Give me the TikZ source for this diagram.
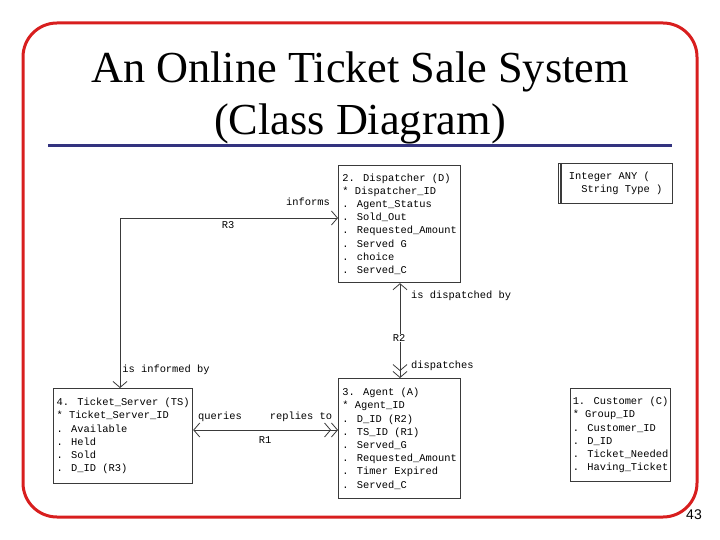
\documentclass[tikz,border=0pt]{standalone}
\usepackage{fontspec}
\setmainfont{Liberation Serif}
\newfontfamily\classfont{Liberation Mono}
\newfontfamily\pagefont{Liberation Sans}
\usepackage{xcolor}
\usetikzlibrary{arrows.meta, positioning, calc}
\definecolor{slidered}{HTML}{D81E1E}
\definecolor{slideblue}{HTML}{33337F}
\definecolor{umlgray}{HTML}{3A3A3A}
\newcommand{\monosize}{\classfont\fontsize{10.4}{13.2}\selectfont}

\begin{document}
\begin{tikzpicture}[x=1pt,y=-1pt,
    umlclass/.style={draw=umlgray,line width=1.2pt,anchor=north west,align=flush left,
      inner sep=0pt,font=\monosize},
    assoc/.style={draw=umlgray,line width=0.8pt},
    lbl/.style={font=\monosize,inner sep=1pt},
    one/.tip={Straight Barb[length=6pt,width=14pt,line width=0.8pt]},
    many/.tip={Straight Barb[length=6pt,width=14pt,line width=0.8pt]Straight Barb[length=6pt,width=14pt,line width=0.8pt]}]
  \useasboundingbox (0,0) rectangle (720,540);
  % slide frame and title
  \draw[slidered,line width=3pt,rounded corners=34pt] (23,23) rectangle (697,517);
  \node (title) at (360,98) [align=center,font=\fontsize{44.3}{52}\selectfont] {An Online Ticket Sale System\\(Class Diagram)};
  \draw[slideblue,line width=3pt] (48,146) -- (672,146);
  \node (pagenum) at (694,515) [font=\pagefont\fontsize{14}{16}\selectfont] {43};
  % classes
  \node[umlclass,minimum width=122pt,minimum height=117pt] (disp) at (338,165) {2. Dispatcher (D)\\{*} Dispatcher\_ID\\. Agent\_Status\\. Sold\_Out\\. Requested\_Amount\\. Served G\\. choice\\. Served\_C};
  \node[umlclass,minimum width=122pt,minimum height=120pt] (agent) at (338,378) {3. Agent (A)\\{*} Agent\_ID\\. D\_ID (R2)\\. TS\_ID (R1)\\. Served\_G\\. Requested\_Amount\\. Timer Expired\\. Served\_C};
  \node[umlclass,minimum width=139pt,minimum height=95pt] (ts) at (53,388) {4. Ticket\_Server (TS)\\{*} Ticket\_Server\_ID\\. Available\\. Held\\. Sold\\. D\_ID (R3)};
  \node[umlclass,minimum width=100pt,minimum height=93pt] (cust) at (570,388) {1. Customer (C)\\{*} Group\_ID\\. Customer\_ID\\. D\_ID\\. Ticket\_Needed\\. Having\_Ticket};
  \node[umlclass,minimum width=114pt,minimum height=40pt] (anytype) at (558,163) {Integer ANY (\\\phantom{xx}String Type )};
  \draw[umlgray,line width=1.2pt] ([xshift=3pt]anytype.north west) -- ([xshift=3pt]anytype.south west);
  % R3
  \coordinate (r3bend) at (120,218);
  \draw[assoc,{one}-{one}] (disp.west |- r3bend) -- (r3bend) -- (r3bend |- ts.north);
  \node[lbl,anchor=south east] (informs) at ([xshift=-7pt,yshift=11pt]disp.west |- r3bend) {informs};
  \node[lbl] (r3) at (228,225) {R3};
  \node[lbl] (informedby) at (166,370) {is informed by};
  % R2
  \coordinate (r2top) at (400,0);
  \draw[assoc,{one}-{many}] (r2top |- disp.south) -- (r2top |- agent.north);
  \node[lbl,anchor=west] (dispby) at (410,296) {is dispatched by};
  \node[lbl,fill=white] (r2) at (399,338) {R2};
  \node[lbl,anchor=west] (dispatches) at (410,366) {dispatches};
  % R1
  \coordinate (r1row) at (0,430);
  \draw[assoc,{one}-{many}] (ts.east |- r1row) -- (agent.west |- r1row);
  \node[lbl] (queries) at (220,417) {queries};
  \node[lbl] (replies) at (301,417) {replies to};
  \node[lbl] (r1) at (265,440) {R1};
\end{tikzpicture}
\end{document}
